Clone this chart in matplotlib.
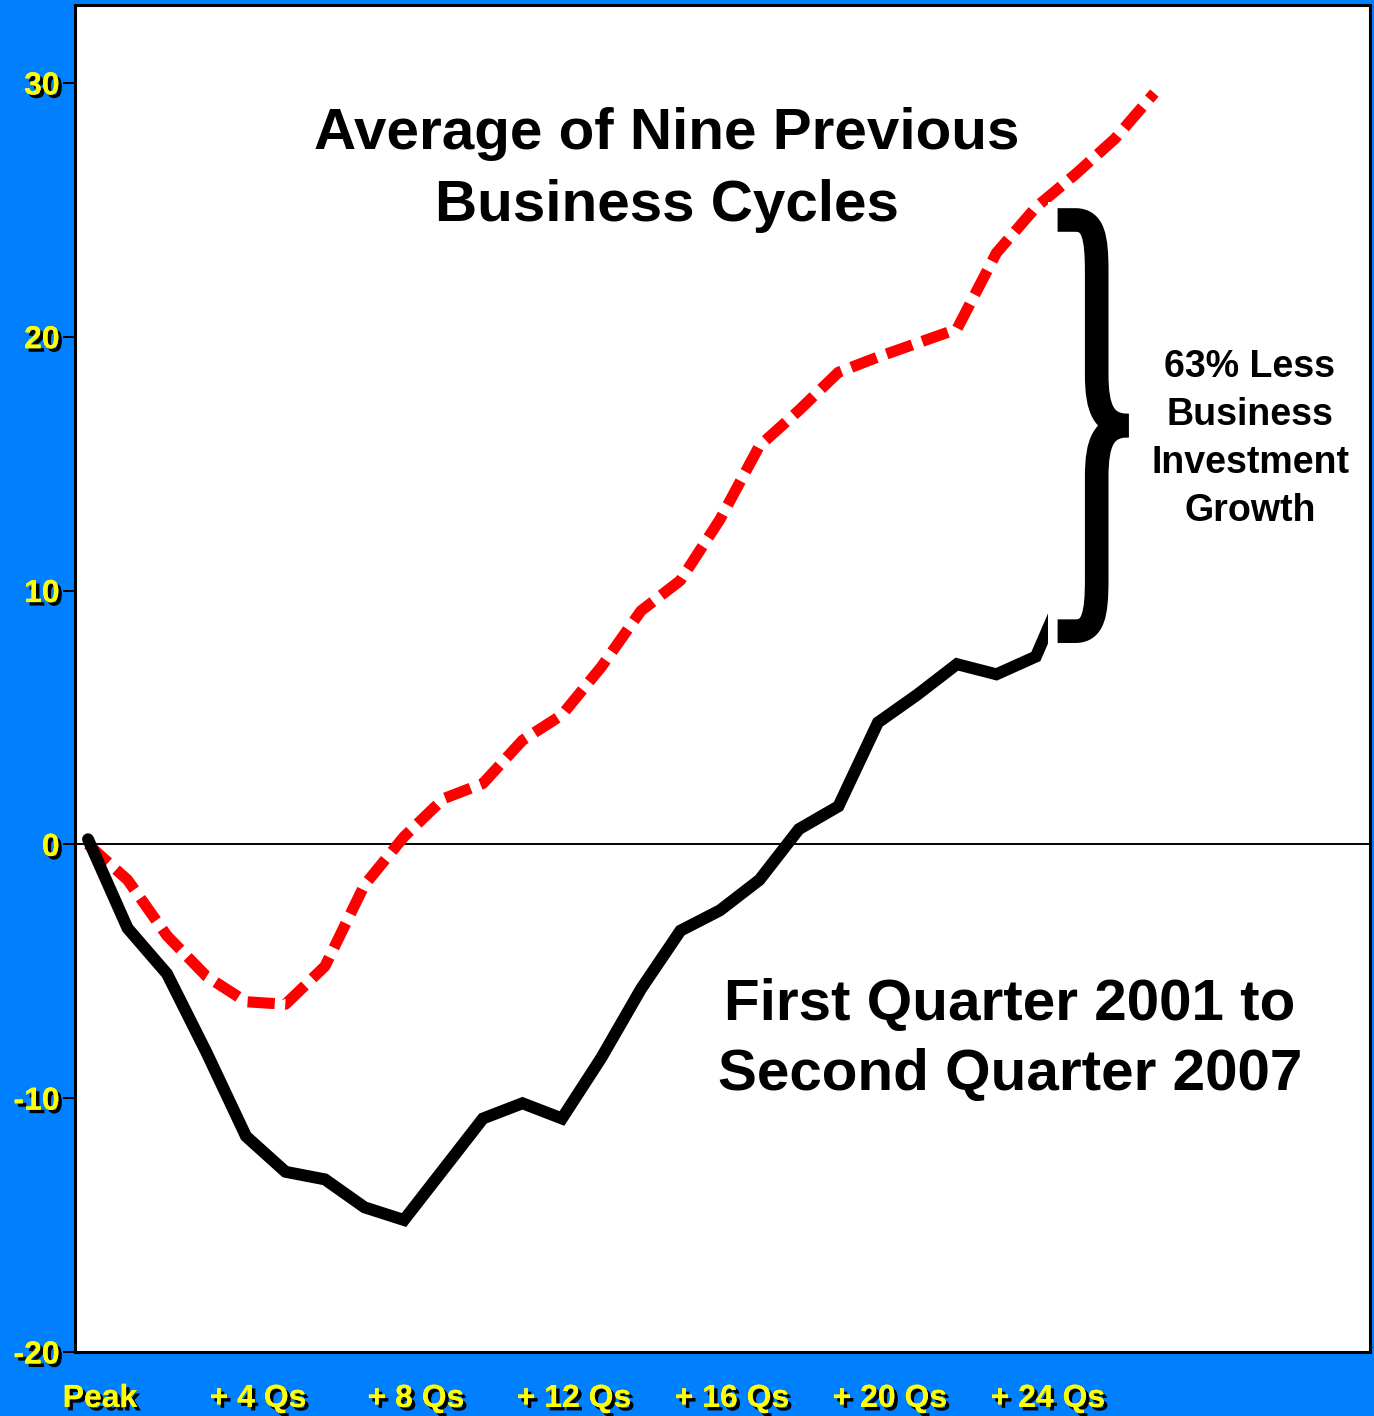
import numpy as np
import matplotlib
matplotlib.use("Agg")
import matplotlib.pyplot as plt
import matplotlib.patheffects as pe
from matplotlib.path import Path
from matplotlib.patches import PathPatch, Rectangle
from matplotlib.transforms import ScaledTranslation

# Business investment, % change from business cycle peak, by quarter after peak
black_q = np.arange(26)
black_vals = [0.2, -3.3, -5.1, -8.2, -11.5, -12.9, -13.2, -14.3, -14.8, -12.8,
              -10.8, -10.2, -10.8, -8.4, -5.7, -3.4, -2.6, -1.4, 0.6, 1.5,
              4.8, 5.9, 7.1, 6.7, 7.4, 11.0]
red_q = np.arange(28)
red_vals = [0.0, -1.4, -3.6, -5.2, -6.2, -6.3, -4.8, -1.6, 0.3, 1.8,
            2.4, 4.1, 5.1, 7.0, 9.2, 10.4, 12.8, 15.7, 17.1, 18.6,
            19.2, 19.75, 20.3, 23.3, 25.1, 26.4, 27.8, 29.6]
xtick_q = [0, 4, 8, 12, 16, 20, 24]
xtick_labels = ['Peak', '+ 4 Qs', '+ 8 Qs', '+ 12 Qs', '+ 16 Qs', '+ 20 Qs', '+ 24 Qs']
yticks = [-20, -10, 0, 10, 20, 30]

BLUE = '#0080FF'
YELLOW = '#FFFF00'
bold = ['Liberation Sans', 'DejaVu Sans']

fig = plt.figure(figsize=(13.74, 14.16), dpi=100, facecolor=BLUE)
ax = fig.add_axes([75/1374, 64/1416, 1295/1374, 1347/1416])
ax.set_facecolor('white')
ax.set_xlim(-0.33, 32.46)
ax.set_ylim(-20, 33.07)

ax.axhline(0, color='black', lw=1.4, zorder=1)

ax.plot(red_q, red_vals, color='#FF0000', lw=8.0, dashes=(2.45, 0.95),
        dash_capstyle='butt', solid_joinstyle='miter', zorder=2)
ax.plot(black_q, black_vals, color='black', lw=8.6, solid_capstyle='round',
        solid_joinstyle='miter', zorder=3)

# white panel behind the brace (hides the line ends)
ax.add_patch(Rectangle((24.3, 7.25), 2.2, 18.05, facecolor='white',
                       edgecolor='none', zorder=4))

# curly brace, built from two stroked bezier halves
def brace(ax, x0, w, ytop, ybot, lw):
    ym = (ytop + ybot) / 2
    h = ytop - ym
    xv = x0 + 0.55 * w
    up = [(x0, ytop), (x0 + 0.25 * w, ytop),
          (x0 + 0.5 * w, ytop), (xv, ytop - 0.08 * h), (xv, ytop - 0.25 * h),
          (xv, ym + 0.25 * h),
          (xv, ym + 0.08 * h), (x0 + 0.65 * w, ym), (x0 + w, ym)]
    codes = [Path.MOVETO, Path.LINETO, Path.CURVE4, Path.CURVE4, Path.CURVE4,
             Path.LINETO, Path.CURVE4, Path.CURVE4, Path.CURVE4]
    lo = [(x, 2 * ym - y) for x, y in up]
    for verts in (up, lo):
        p = PathPatch(Path(verts, codes), facecolor='none', edgecolor='black',
                      lw=lw, capstyle='butt', joinstyle='round', zorder=5)
        ax.add_patch(p)

brace(ax, 24.55, 1.8, 24.6, 8.4, 17)

for s in ax.spines.values():
    s.set_color('black')
    s.set_linewidth(2.2)

ax.set_yticks(yticks)
ax.set_yticklabels([str(v) for v in yticks])
ax.tick_params(axis='y', direction='out', length=9, width=1.4, color='black',
               pad=2, labelsize=23, labelcolor=YELLOW)
ax.set_xticks(xtick_q)
ax.set_xticklabels(xtick_labels)
ax.tick_params(axis='x', length=0, pad=23, labelsize=23, labelcolor=YELLOW)

shadow = [pe.withSimplePatchShadow(offset=(2.5, -2.5), shadow_rgbFace='black', alpha=1),
          pe.Normal()]
for lab in ax.get_yticklabels() + ax.get_xticklabels():
    lab.set_family(bold)
    lab.set_fontweight('bold')
    lab.set_path_effects(shadow)
for lab in ax.get_xticklabels():
    lab.set_transform(lab.get_transform() + ScaledTranslation(0.12, 0, fig.dpi_scale_trans))

fig.text(667/1374, 1 - 170/1416, 'Average of Nine Previous\nBusiness Cycles',
         ha='center', va='center', fontsize=42, fontweight='bold',
         family=bold, linespacing=1.45)
fig.text(1010/1374, 1 - 1040/1416, 'First Quarter 2001 to\nSecond Quarter 2007',
         ha='center', va='center', fontsize=42, fontweight='bold',
         family=bold, linespacing=1.38)
fig.text(1250/1374, 1 - 439/1416, '63% Less\nBusiness\nInvestment\nGrowth',
         ha='center', va='center', fontsize=27, fontweight='bold',
         family=bold, linespacing=1.42)

fig.savefig('out.png', dpi=100, facecolor=BLUE)
